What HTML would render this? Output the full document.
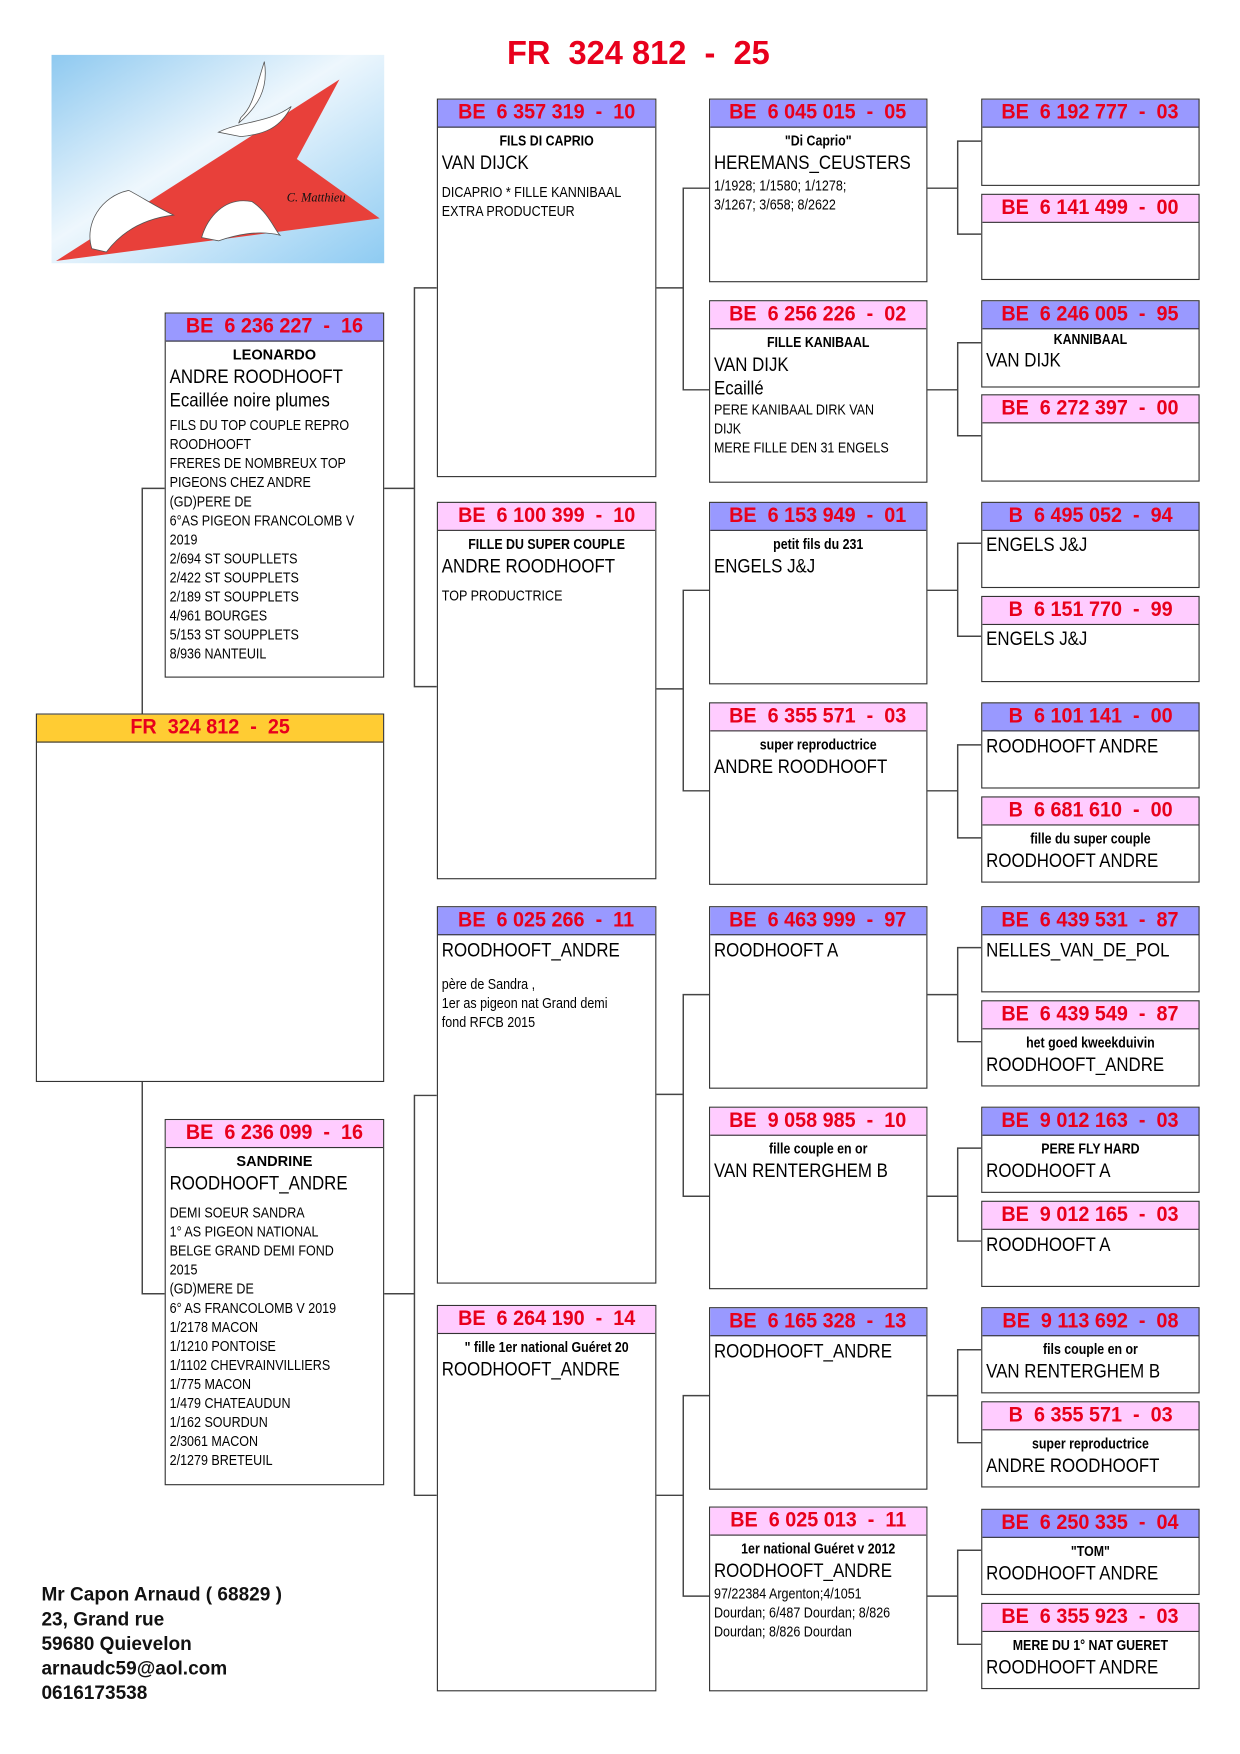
<!DOCTYPE html>
<html><head><meta charset="utf-8"><style>
html,body{margin:0;padding:0;background:#fff;width:1240px;height:1754px;overflow:hidden}
#w{position:absolute;left:0;top:0;width:1107px;height:1566px;transform:scale(1.1201);transform-origin:0 0;font-family:"Liberation Sans",Arial,sans-serif}
.b{position:absolute;width:193px;border:1.2px solid #333;background:#fff;box-sizing:border-box;overflow:hidden}
.h{height:24px;border-bottom:1.2px solid #333;color:#e8001c;font-weight:bold;font-size:19px;line-height:24px;text-align:center;white-space:pre}
.h span{display:inline-block;transform:scaleX(.93)}
.bl{background:#9999ff}.pk{background:#ffccff}.ye{background:#ffcc33}
.t{font-weight:bold;font-size:13px;text-align:center;margin-top:4px;white-space:nowrap;transform:scaleX(.85)}
.n{font-size:17.5px;padding-left:4px;margin-top:2px;white-space:nowrap;transform:scaleX(.86);transform-origin:0 0}
.s{font-size:13px;line-height:17px;padding-left:4px;margin-top:6px;white-space:nowrap;transform:scaleX(.86);transform-origin:0 0}
</style></head><body><div id="w">
<svg style="position:absolute;left:0;top:0" width="1107" height="1566">
<defs><linearGradient id="g" x1="0" y1="0" x2="1" y2="1"><stop offset="0" stop-color="#8ec9f0"/><stop offset="0.45" stop-color="#eef7fd"/><stop offset="1" stop-color="#8ecbf2"/></linearGradient></defs>
<rect x="46" y="49" width="297" height="186" fill="url(#g)"/>
<polygon points="50,233 303,71 265,142 339,195" fill="#e8403a"/>
<g fill="#fff" stroke="#555" stroke-width="0.7">
<path d="M213,110 C230,95 240,80 236,55 C228,80 226,95 215,105 Z"/>
<path d="M195,118 C215,108 240,110 260,95 C250,115 235,120 215,122 Z"/>
<path d="M82,222 C75,200 90,175 115,170 C125,175 140,185 155,192 C130,195 110,205 95,225 Z"/>
<path d="M180,212 C185,195 200,175 225,180 C240,190 245,205 250,210 C230,205 210,210 195,215 Z"/>
</g>
<text x="256" y="180" font-family="Liberation Serif" font-style="italic" font-size="11" fill="#111">C. Matthieu</text>
<g stroke="#444" stroke-width="1.3" fill="none">
<path d="M147,436H127V637M127,965V1155H147"/>
<path d="M342,436H370M390,257H370V613H390"/>
<path d="M342,1155H370M390,978H370V1335H390"/>
<path d="M585,257H610M633,168H610V348H633"/>
<path d="M585,615H610M633,527H610V706H633"/>
<path d="M585,977H610M633,888H610V1068H633"/>
<path d="M585,1335H610M633,1246H610V1425H633"/>
<path d="M827,168H855M876,126H855V209H876"/>
<path d="M827,348H855M876,306H855V389H876"/>
<path d="M827,527H855M876,485H855V568H876"/>
<path d="M827,706H855M876,665H855V748H876"/>
<path d="M827,888H855M876,846H855V930H876"/>
<path d="M827,1068H855M876,1025H855V1108H876"/>
<path d="M827,1246H855M876,1205H855V1288H876"/>
<path d="M827,1425H855M876,1384H855V1468H876"/>
</g></svg>

<div style="position:absolute;left:420px;top:31px;width:300px;text-align:center;color:#e8001c;font-weight:bold;font-size:30px;white-space:pre"><span style="display:inline-block;transform:scaleX(.97)">FR  324 812  -  25</span></div>

<div class="b" style="left:147px;top:279px;height:326px;width:196px"><div class="h bl"><span>BE  6 236 227  -  16</span></div><div class="t" style="transform:none;font-size:13px">LEONARDO</div><div class="n">ANDRE ROODHOOFT</div><div class="n" style="margin-top:0">Ecaillée noire plumes</div><div class="s" style="margin-top:3px">FILS DU TOP COUPLE REPRO<br>ROODHOOFT<br>FRERES DE NOMBREUX TOP<br>PIGEONS CHEZ ANDRE<br>(GD)PERE DE<br>6°AS PIGEON FRANCOLOMB V<br>2019<br>2/694 ST SOUPLLETS<br>2/422 ST SOUPPLETS<br>2/189 ST SOUPPLETS<br>4/961 BOURGES<br>5/153 ST SOUPPLETS<br>8/936 NANTEUIL</div></div>
<div class="b" style="left:32px;top:637px;height:329px;width:311px"><div class="h ye"><span>FR  324 812  -  25</span></div></div>
<div class="b" style="left:147px;top:999px;height:327px;width:196px"><div class="h pk"><span>BE  6 236 099  -  16</span></div><div class="t" style="transform:none">SANDRINE</div><div class="n">ROODHOOFT_ANDRE</div><div class="s" style="margin-top:7px">DEMI SOEUR SANDRA<br>1° AS PIGEON NATIONAL<br>BELGE GRAND DEMI FOND<br>2015<br>(GD)MERE DE<br>6° AS FRANCOLOMB V 2019<br>1/2178 MACON<br>1/1210 PONTOISE<br>1/1102 CHEVRAINVILLIERS<br>1/775 MACON<br>1/479 CHATEAUDUN<br>1/162 SOURDUN<br>2/3061 MACON<br>2/1279 BRETEUIL</div></div>

<div class="b" style="left:390px;top:88px;height:338px;width:196px"><div class="h bl"><span>BE  6 357 319  -  10</span></div><div class="t">FILS DI CAPRIO</div><div class="n">VAN DIJCK</div><div class="s" style="margin-top:7px">DICAPRIO * FILLE KANNIBAAL<br>EXTRA PRODUCTEUR</div></div>
<div class="b" style="left:390px;top:448px;height:337px;width:196px"><div class="h pk"><span>BE  6 100 399  -  10</span></div><div class="t">FILLE DU SUPER COUPLE</div><div class="n">ANDRE ROODHOOFT</div><div class="s" style="margin-top:7px">TOP PRODUCTRICE</div></div>
<div class="b" style="left:390px;top:809px;height:337px;width:196px"><div class="h bl"><span>BE  6 025 266  -  11</span></div><div class="n" style="margin-top:3px">ROODHOOFT_ANDRE</div><div class="s" style="margin-top:11px">père de Sandra ,<br>1er as pigeon nat Grand demi<br>fond RFCB 2015</div></div>
<div class="b" style="left:390px;top:1165px;height:345px;width:196px"><div class="h pk"><span>BE  6 264 190  -  14</span></div><div class="t">" fille 1er national Guéret 20</div><div class="n">ROODHOOFT_ANDRE</div></div>

<div class="b" style="left:633px;top:88px;height:164px;width:195px"><div class="h bl"><span>BE  6 045 015  -  05</span></div><div class="t">"Di Caprio"</div><div class="n">HEREMANS_CEUSTERS</div><div class="s" style="margin-top:1px">1/1928; 1/1580; 1/1278;<br>3/1267; 3/658; 8/2622</div></div>
<div class="b" style="left:633px;top:268px;height:163px;width:195px"><div class="h pk"><span>BE  6 256 226  -  02</span></div><div class="t">FILLE KANIBAAL</div><div class="n">VAN DIJK</div><div class="n" style="margin-top:0">Ecaillé</div><div class="s" style="margin-top:0">PERE KANIBAAL DIRK VAN<br>DIJK<br>MERE FILLE DEN 31 ENGELS</div></div>
<div class="b" style="left:633px;top:448px;height:163px;width:195px"><div class="h bl"><span>BE  6 153 949  -  01</span></div><div class="t">petit fils du 231</div><div class="n">ENGELS J&amp;J</div></div>
<div class="b" style="left:633px;top:627px;height:163px;width:195px"><div class="h pk"><span>BE  6 355 571  -  03</span></div><div class="t">super reproductrice</div><div class="n">ANDRE ROODHOOFT</div></div>
<div class="b" style="left:633px;top:809px;height:163px;width:195px"><div class="h bl"><span>BE  6 463 999  -  97</span></div><div class="n" style="margin-top:3px">ROODHOOFT A</div></div>
<div class="b" style="left:633px;top:988px;height:163px;width:195px"><div class="h pk"><span>BE  9 058 985  -  10</span></div><div class="t">fille couple en or</div><div class="n">VAN RENTERGHEM B</div></div>
<div class="b" style="left:633px;top:1167px;height:163px;width:195px"><div class="h bl"><span>BE  6 165 328  -  13</span></div><div class="n" style="margin-top:3px">ROODHOOFT_ANDRE</div></div>
<div class="b" style="left:633px;top:1345px;height:165px;width:195px"><div class="h pk"><span>BE  6 025 013  -  11</span></div><div class="t">1er national Guéret v 2012</div><div class="n">ROODHOOFT_ANDRE</div><div class="s" style="margin-top:1px">97/22384 Argenton;4/1051<br>Dourdan; 6/487 Dourdan; 8/826<br>Dourdan; 8/826 Dourdan</div></div>

<div class="b" style="left:876px;top:88px;height:78px;width:195px"><div class="h bl"><span>BE  6 192 777  -  03</span></div></div>
<div class="b" style="left:876px;top:173px;height:77px;width:195px"><div class="h pk"><span>BE  6 141 499  -  00</span></div></div>
<div class="b" style="left:876px;top:268px;height:78px;width:195px"><div class="h bl"><span>BE  6 246 005  -  95</span></div><div class="t" style="margin-top:1px">KANNIBAAL</div><div class="n" style="margin-top:1px">VAN DIJK</div></div>
<div class="b" style="left:876px;top:352px;height:78px;width:195px"><div class="h pk"><span>BE  6 272 397  -  00</span></div></div>
<div class="b" style="left:876px;top:448px;height:77px;width:195px"><div class="h bl"><span>B  6 495 052  -  94</span></div><div class="n" style="margin-top:2px">ENGELS J&amp;J</div></div>
<div class="b" style="left:876px;top:532px;height:77px;width:195px"><div class="h pk"><span>B  6 151 770  -  99</span></div><div class="n" style="margin-top:2px">ENGELS J&amp;J</div></div>
<div class="b" style="left:876px;top:627px;height:77px;width:195px"><div class="h bl"><span>B  6 101 141  -  00</span></div><div class="n" style="margin-top:3px">ROODHOOFT ANDRE</div></div>
<div class="b" style="left:876px;top:711px;height:77px;width:195px"><div class="h pk"><span>B  6 681 610  -  00</span></div><div class="t">fille du super couple</div><div class="n">ROODHOOFT ANDRE</div></div>
<div class="b" style="left:876px;top:809px;height:77px;width:195px"><div class="h bl"><span>BE  6 439 531  -  87</span></div><div class="n" style="margin-top:3px">NELLES_VAN_DE_POL</div></div>
<div class="b" style="left:876px;top:893px;height:77px;width:195px"><div class="h pk"><span>BE  6 439 549  -  87</span></div><div class="t">het goed kweekduivin</div><div class="n">ROODHOOFT_ANDRE</div></div>
<div class="b" style="left:876px;top:988px;height:77px;width:195px"><div class="h bl"><span>BE  9 012 163  -  03</span></div><div class="t">PERE FLY HARD</div><div class="n">ROODHOOFT A</div></div>
<div class="b" style="left:876px;top:1072px;height:77px;width:195px"><div class="h pk"><span>BE  9 012 165  -  03</span></div><div class="n" style="margin-top:3px">ROODHOOFT A</div></div>
<div class="b" style="left:876px;top:1167px;height:77px;width:195px"><div class="h bl"><span>BE  9 113 692  -  08</span></div><div class="t">fils couple en or</div><div class="n">VAN RENTERGHEM B</div></div>
<div class="b" style="left:876px;top:1251px;height:77px;width:195px"><div class="h pk"><span>B  6 355 571  -  03</span></div><div class="t">super reproductrice</div><div class="n">ANDRE ROODHOOFT</div></div>
<div class="b" style="left:876px;top:1347px;height:77px;width:195px"><div class="h bl"><span>BE  6 250 335  -  04</span></div><div class="t">"TOM"</div><div class="n">ROODHOOFT ANDRE</div></div>
<div class="b" style="left:876px;top:1431px;height:77px;width:195px"><div class="h pk"><span>BE  6 355 923  -  03</span></div><div class="t">MERE DU 1° NAT GUERET</div><div class="n">ROODHOOFT ANDRE</div></div>

<div style="position:absolute;left:37px;top:1413px;font-weight:bold;font-size:17px;line-height:22px;color:#111">Mr Capon Arnaud ( 68829 )<br>23, Grand rue<br>59680 Quievelon<br>arnaudc59@aol.com<br>0616173538</div>
</div></body></html>
